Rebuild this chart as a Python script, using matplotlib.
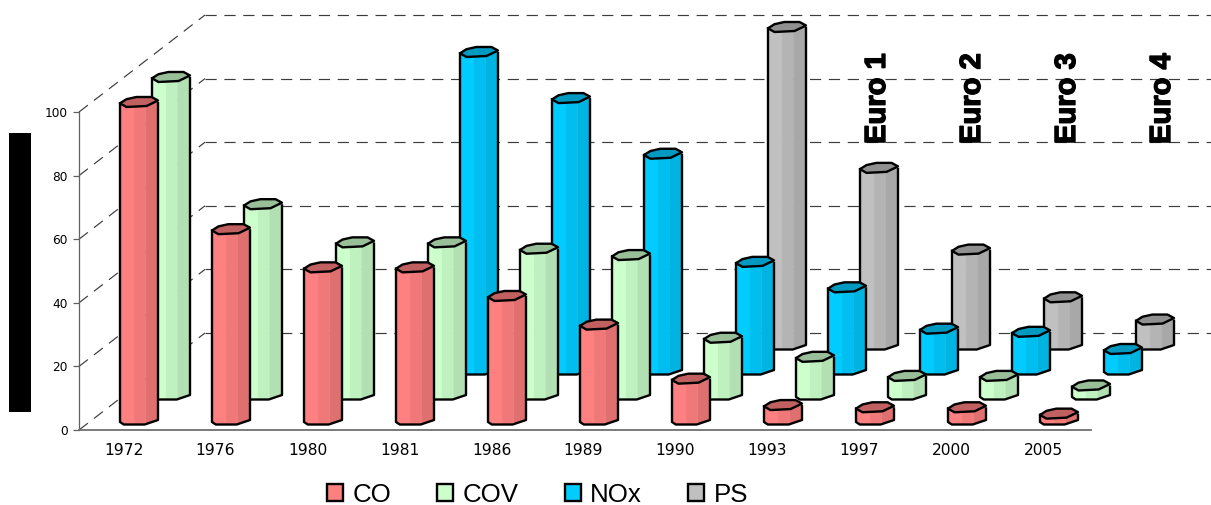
import numpy as np
import matplotlib
matplotlib.use("Agg")
import matplotlib.pyplot as plt
from matplotlib.patches import Polygon, Rectangle, Patch
from matplotlib.transforms import ScaledTranslation
import matplotlib.patheffects as pe

years = ["1972", "1976", "1980", "1981", "1986", "1989", "1990", "1993", "1997", "2000", "2005"]
nan = float("nan")
co_values = [100, 60, 48, 48, 39, 30, 13, 4.7, 4, 4, 2]
cov_values = [100, 60, 48, 48, 46, 44, 18, 12, 6, 6, 3]
nox_values = [nan, nan, nan, 100, 85.5, 68, 34, 26, 13, 12, 6.6]
ps_values = [nan, nan, nan, nan, nan, nan, 100, 55.7, 30, 15, 8]
series_names = ["CO", "COV", "NOx", "PS"]
y_ticks = [0, 20, 40, 60, 80, 100]
euro_labels = ["Euro 1", "Euro 2", "Euro 3", "Euro 4"]

series_values = [co_values, cov_values, nox_values, ps_values]
light = ["#FF8080", "#CCFFCC", "#00CCFF", "#C0C0C0"]
mid = ["#F07878", "#BFF0BF", "#00BFF0", "#B4B4B4"]
dark = ["#E07070", "#B3E0B3", "#00B3E0", "#A8A8A8"]
caps = ["#C06060", "#99BF99", "#0099BF", "#909090"]

W, H = 1211, 505
fig = plt.figure(figsize=(W / 100, H / 100), dpi=100, facecolor="white")
L, R, B, T = 79, 1091, 430, 112
ax = fig.add_axes([L / W, (H - B) / H, (R - L) / W, (B - T) / H])
ax.set_xlim(-0.5, 10.5)
ax.set_ylim(0, 100)
ax.patch.set_visible(False)

px = 1 / 92.0           # px -> category units
py = 100 / 318.0        # px -> value units

# walls
depth_x, depth_y = 126 * px, 97 * py
right_edge = (W - L) * px - 0.5
grid_style = dict(color="#3c3c3c", lw=0.85, dashes=(9.5, 6.5), clip_on=False, zorder=1)
for t in y_ticks:
    ax.plot([-0.5, -0.5 + depth_x], [t, t + depth_y], **grid_style)
    ax.plot([-0.5 + depth_x, right_edge], [t + depth_y, t + depth_y], **grid_style)

bar_w = 38 * px
top_profile = [(0, -1.3), (.17, 2.8), (.43, 5), (.83, 5), (1, 1.5), (.7, -4), (.17, -5)]
bottom_f = np.array([0, .1, .65, 1.0])
bottom_dy = np.array([-2, -4.5, -4.5, 0.0])
bands = [0, .37, .68, 1.0]
edge_lw = 1.7


def cylinder(x0, base, top, k, z):
    f2x = lambda f: x0 + f * bar_w
    for i in range(3):
        a, b = bands[i], bands[i + 1]
        inner = bottom_f[(bottom_f > a) & (bottom_f < b)]
        fs = np.concatenate([[a], inner, [b]])
        ys = base + np.interp(fs, bottom_f, bottom_dy) * py
        pts = [(f2x(a), top), (f2x(b), top)] + [(f2x(f), y) for f, y in zip(fs[::-1], ys[::-1])]
        ax.add_patch(Polygon(pts, closed=True, fc=[light, mid, dark][i][k], ec=[light, mid, dark][i][k],
                             lw=0.2, clip_on=False, zorder=z))
    outline = [(f2x(0), top)] + [(f2x(f), base + d * py) for f, d in zip(bottom_f, bottom_dy)] + [(f2x(1), top)]
    ax.add_patch(Polygon(outline, closed=False, fill=False, ec="black", lw=edge_lw,
                         joinstyle="round", clip_on=False, zorder=z + 0.1))
    cap = [(f2x(f), top + d * py) for f, d in top_profile]
    ax.add_patch(Polygon(cap, closed=True, fc=caps[k], ec="black", lw=edge_lw,
                         joinstyle="round", clip_on=False, zorder=z + 0.2))


for k in [3, 2, 1, 0]:
    off_x = (-5 + 32 * k) * px
    base = (10 + 25 * k) * py
    z = 10 + (3 - k)
    for i, v in enumerate(series_values[k]):
        if np.isnan(v):
            continue
        cylinder(i + off_x, base, base + v, k, z + i * 0.001)

# axes
for s in ["top", "right"]:
    ax.spines[s].set_visible(False)
ax.spines["left"].set_color("#606060")
ax.spines["left"].set_linewidth(0.9)
ax.spines["bottom"].set_color("#707070")
ax.spines["bottom"].set_linewidth(1.3)
ax.spines["left"].set_zorder(5)
ax.spines["bottom"].set_zorder(5)
ax.set_xticks(range(len(years)))
ax.set_xticklabels(years, fontsize=11.2, family="DejaVu Sans", color="black")
ax.set_yticks(y_ticks)
ax.set_yticklabels([str(t) for t in y_ticks], fontsize=8.7, family="DejaVu Sans", color="black")
ax.tick_params(axis="x", length=0, pad=9.5)
ax.tick_params(axis="y", length=4, width=0.9, color="#606060", pad=4)
for lab in ax.get_xticklabels():
    lab.set_transform(lab.get_transform() + ScaledTranslation(-1.5 / 100, 0, fig.dpi_scale_trans))

# regulation labels
for i, lab in enumerate(euro_labels):
    ax.text((877 + 95 * i - L) * px - 0.5, (B - 144) * py, lab, rotation=90, ha="center", va="bottom",
            family="Liberation Sans", weight="bold", fontsize=21, color="black", zorder=30, clip_on=False,
            path_effects=[pe.withStroke(linewidth=1.0, foreground="black")])

# legend
handles = [Patch(fc=light[i], ec="black", lw=1.7) for i in range(4)]
fig.legend(handles, series_names, loc="center", bbox_to_anchor=(537.5 / W, 1 - 494.5 / H),
           bbox_transform=fig.transFigure, ncols=4, frameon=False, borderpad=0,
           prop={"family": "Liberation Sans", "size": 18.6},
           handlelength=0.62, handleheight=0.66, handletextpad=0.35, columnspacing=1.8)

# solid black block at left
fig.add_artist(Rectangle((9 / W, 1 - 412 / H), 22 / W, 279 / H, transform=fig.transFigure,
                         fc="black", ec="none"))

fig.savefig("out.png", dpi=100, facecolor="white")
